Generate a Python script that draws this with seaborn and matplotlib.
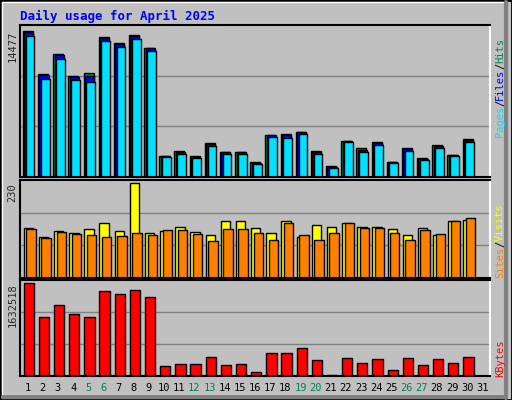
import numpy as np
import matplotlib
matplotlib.use("Agg")
import matplotlib.pyplot as plt
import seaborn as sns
from matplotlib.patches import Rectangle

days = list(range(1, 31))
all_days = list(range(1, 32))
weekend_days = [5, 6, 12, 13, 19, 20, 26, 27]

hits = [14477, 10240, 12210, 10050, 10340, 13890, 13300, 14090, 12800, 2070,
        2560, 2070, 3350, 2460, 2460, 1480, 4140, 4240, 4430, 2560,
        1080, 3550, 2860, 3450, 1480, 2860, 1870, 3150, 2170, 3740]
files = [14380, 10140, 12110, 9950, 10050, 13790, 13200, 13990, 12800, 2070,
         2460, 1970, 3250, 2460, 2460, 1380, 4140, 4140, 4430, 2460,
         980, 3550, 2660, 3350, 1480, 2760, 1770, 3050, 2170, 3640]
pages = [13990, 9750, 11720, 9650, 9370, 13500, 12910, 13700, 12500, 1970,
         2270, 1870, 3050, 2270, 2270, 1280, 3950, 3850, 4230, 2270,
         880, 3450, 2470, 3150, 1380, 2570, 1680, 2850, 2070, 3450]
visits = [122, 99, 114, 109, 119, 134, 114, 230, 109, 114,
          124, 112, 104, 137, 137, 122, 109, 137, 99, 127,
          124, 134, 124, 124, 119, 104, 122, 104, 137, 139]
sites = [119, 97, 112, 107, 104, 99, 102, 109, 104, 117,
         117, 107, 89, 119, 119, 109, 92, 132, 104, 92,
         109, 132, 122, 122, 109, 92, 117, 107, 137, 144]
kbytes = [1632518, 1024800, 1239300, 1078400, 1024800, 1489500, 1435900, 1507400, 1382300, 166800,
          202600, 202600, 327700, 184700, 202600, 77500, 399200, 399200, 488600, 274100,
          20000, 309800, 220400, 291900, 113200, 309800, 184700, 291900, 220400, 327700]

BG = "#c0c0c0"
sns.set_style("white")
plt.rcParams["font.family"] = ["DejaVu Sans Mono", "DejaVu Sans"]

fig = plt.figure(figsize=(5.12, 4.0), dpi=100, facecolor=BG)

# 3D-ish outer frame
fig.patches.append(Rectangle((0, 0), 1, 1, transform=fig.transFigure, fill=False,
                             edgecolor="black", linewidth=2))
fig.patches.append(Rectangle((0.004, 0.012), 0.982, 0.984, transform=fig.transFigure, fill=False,
                             edgecolor="white", linewidth=1))
fig.add_artist(plt.Line2D([0.988, 0.988], [0.005, 0.995], color="#808080", lw=3))
fig.add_artist(plt.Line2D([0.005, 0.988], [0.007, 0.007], color="#808080", lw=3))

fig.text(20 / 512, 1 - 16 / 400, "Daily usage for April 2025", color="#0000ff",
         fontsize=9, fontweight="bold", va="center", ha="left")

ax_top = fig.add_axes([20 / 512, 1 - 177 / 400, 470 / 512, 152 / 400])
ax_mid = fig.add_axes([20 / 512, 1 - 278 / 400, 470 / 512, 98 / 400])
ax_bot = fig.add_axes([20 / 512, 1 - 376 / 400, 470 / 512, 96 / 400])


def style_axis(ax, vmax, pad=1.03):
    ax.set_facecolor(BG)
    ax.set_xlim(0.5, 31.5)
    ax.set_ylim(0, vmax * pad)
    for f in (1 / 3, 2 / 3):
        ax.axhline(vmax * pad * f, color="#808080", lw=1, zorder=0)
    for s in ("left", "top", "bottom"):
        ax.spines[s].set_color("black")
        ax.spines[s].set_linewidth(1.5)
    ax.spines["right"].set_color("white")
    ax.spines["right"].set_linewidth(1.5)
    ax.set_yticks([vmax])
    ax.set_yticklabels([str(vmax)], rotation=90, va="top", fontsize=7.5)
    ax.tick_params(axis="y", length=0, pad=2)
    ax.set_xlabel("")
    ax.set_ylabel("")


def bars(ax, offset, values, color, width):
    sns.barplot(x=np.array(days) + offset, y=values, native_scale=True, width=width,
                color=color, edgecolor="black", linewidth=1, saturation=1, ax=ax,
                errorbar=None)


bars(ax_top, 0.02, hits, "#00805c", 0.66)
bars(ax_top, 0.08, files, "#0000ff", 0.6)
bars(ax_top, 0.16, pages, "#00e0ff", 0.58)
style_axis(ax_top, max(hits), 1.04)

bars(ax_mid, 0.05, visits, "#ffff00", 0.62)
bars(ax_mid, 0.22, sites, "#ff8000", 0.62)
style_axis(ax_mid, max(visits))

bars(ax_bot, 0.08, kbytes, "#ff0000", 0.68)
style_axis(ax_bot, max(kbytes))

for ax in (ax_top, ax_mid):
    ax.set_xticks([])
ax_bot.set_xticks(all_days)
ax_bot.set_xticklabels([str(d) for d in all_days], fontsize=7.5)
ax_bot.tick_params(axis="x", length=0, pad=5)
for lbl, d in zip(ax_bot.get_xticklabels(), all_days):
    lbl.set_color("#00805c" if d in weekend_days else "black")

# right-side legends (rotated, stacked from bottom)
def side_label(parts, y_bottom):
    x = 500 / 512
    y = 1 - y_bottom / 400
    step = 6.2 / 400
    for text, color in parts:
        fig.text(x, y, text, rotation=90, color=color, fontsize=7.5,
                 ha="center", va="bottom")
        y += step * len(text)

side_label([("Pages", "#00e0ff"), ("/", "black"), ("Files", "#0000ff"),
            ("/", "black"), ("Hits", "#00805c")], 137)
side_label([("Sites", "#ff8000"), ("/", "black"), ("Visits", "#ffff00")], 278)
side_label([("KBytes", "#ff0000")], 377)

fig.savefig("out.png", dpi=100, facecolor=BG)
